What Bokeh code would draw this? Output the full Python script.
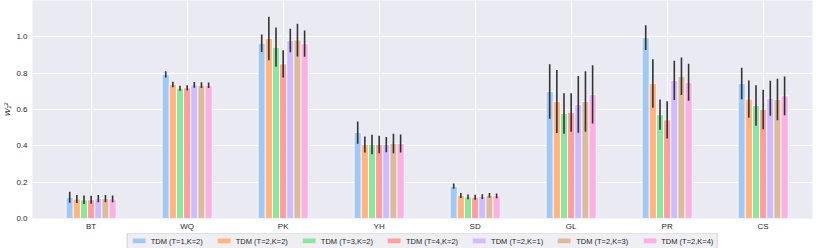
import numpy as np
from bokeh.plotting import figure
from bokeh.layouts import column
from bokeh.models import ColumnDataSource, FixedTicker, NumeralTickFormatter, Legend, LegendItem, Range1d
from bokeh.embed import file_html
from bokeh.resources import INLINE

categories = ["BT", "WQ", "PK", "YH", "SD", "GL", "PR", "CS"]
series = ["TDM (T=1,K=2)", "TDM (T=2,K=2)", "TDM (T=3,K=2)", "TDM (T=4,K=2)",
          "TDM (T=2,K=1)", "TDM (T=2,K=3)", "TDM (T=2,K=4)"]
colors = ["#a1c9f4", "#ffb482", "#8de5a1", "#ff9f9b", "#d0bbff", "#debb9b", "#fab0e4"]

# means per series (order of categories)
m_t1k2 = [0.117, 0.793, 0.965, 0.473, 0.178, 0.699, 0.996, 0.743]
m_t2k2 = [0.108, 0.738, 0.991, 0.407, 0.127, 0.644, 0.743, 0.657]
m_t3k2 = [0.103, 0.717, 0.943, 0.407, 0.119, 0.578, 0.572, 0.622]
m_t4k2 = [0.103, 0.719, 0.851, 0.407, 0.117, 0.583, 0.543, 0.600]
m_t2k1 = [0.110, 0.736, 0.980, 0.407, 0.121, 0.628, 0.760, 0.662]
m_t2k3 = [0.110, 0.734, 0.982, 0.413, 0.127, 0.644, 0.783, 0.655]
m_t2k4 = [0.108, 0.734, 0.963, 0.413, 0.125, 0.683, 0.750, 0.675]

# error half-widths
e_t1k2 = [0.030, 0.017, 0.048, 0.061, 0.014, 0.150, 0.068, 0.087]
e_t2k2 = [0.022, 0.015, 0.120, 0.044, 0.014, 0.173, 0.133, 0.103]
e_t3k2 = [0.023, 0.014, 0.108, 0.054, 0.013, 0.112, 0.083, 0.111]
e_t4k2 = [0.022, 0.014, 0.075, 0.048, 0.014, 0.106, 0.103, 0.109]
e_t2k1 = [0.020, 0.016, 0.065, 0.042, 0.013, 0.156, 0.108, 0.096]
e_t2k3 = [0.020, 0.016, 0.090, 0.054, 0.013, 0.167, 0.103, 0.114]
e_t2k4 = [0.018, 0.015, 0.072, 0.050, 0.013, 0.160, 0.102, 0.107]

means = [m_t1k2, m_t2k2, m_t3k2, m_t4k2, m_t2k1, m_t2k3, m_t2k4]
errs = [e_t1k2, e_t2k2, e_t3k2, e_t4k2, e_t2k1, e_t2k3, e_t2k4]

yticks = [0.0, 0.2, 0.4, 0.6, 0.8, 1.0]

FONT = "Liberation Sans"
TXT = "#262626"
BAR_W = 0.0745

p = figure(width=814, height=233, output_backend="svg", toolbar_location=None,
           x_range=Range1d(-0.611, 7.514), y_range=Range1d(0, 1.2),
           min_border_left=0, min_border_right=2, min_border_top=0, min_border_bottom=0)
p.background_fill_color = "#eaeaf2"
p.border_fill_color = "white"
p.outline_line_color = None

idx = np.arange(len(categories))
for j, (name, col) in enumerate(zip(series, colors)):
    xs = idx + (j - 3) * BAR_W
    m = np.array(means[j])
    e = np.array(errs[j])
    src = ColumnDataSource(dict(x=xs, top=m, lo=m - e, hi=m + e))
    p.vbar(x="x", top="top", width=BAR_W, source=src, fill_color=col,
           line_color="white", line_width=0.8)
    p.segment(x0="x", x1="x", y0="lo", y1="hi", source=src, line_color="#333333", line_width=1.6)

p.xaxis.ticker = FixedTicker(ticks=list(range(len(categories))))
p.xaxis.major_label_overrides = {i: c for i, c in enumerate(categories)}
p.yaxis.ticker = FixedTicker(ticks=yticks)
p.yaxis.formatter = NumeralTickFormatter(format="0.0")
p.ygrid.ticker = FixedTicker(ticks=yticks)

for ax in [p.xaxis[0], p.yaxis[0]]:
    ax.axis_line_color = None
    ax.major_tick_line_color = None
    ax.minor_tick_line_color = None
    ax.major_tick_out = 0
    ax.major_tick_in = 0
    ax.minor_tick_out = 0
    ax.minor_tick_in = 0
    ax.major_label_text_font = FONT
    ax.major_label_text_font_size = "8px"
    ax.major_label_text_color = TXT
p.xaxis.major_label_standoff = 3
p.yaxis.major_label_standoff = 5

p.yaxis.axis_label = "W₂²"
p.yaxis.axis_label_text_font = FONT
p.yaxis.axis_label_text_font_size = "8px"
p.yaxis.axis_label_text_font_style = "italic"
p.yaxis.axis_label_text_color = TXT
p.yaxis.axis_label_standoff = 1

p.xgrid.grid_line_color = "white"
p.ygrid.grid_line_color = "white"
p.xgrid.grid_line_width = 1
p.ygrid.grid_line_width = 1

# legend strip (separate figure so the legend is not clipped by the main frame)
lg = figure(width=814, height=15, output_backend="svg", toolbar_location=None,
            x_range=Range1d(0, 1), y_range=Range1d(0, 1),
            min_border_left=0, min_border_right=0, min_border_top=0, min_border_bottom=0)
lg.axis.visible = False
lg.grid.visible = False
lg.outline_line_color = None
lg.background_fill_color = "white"
items = []
for name, col in zip(series, colors):
    # zero-height swatch renderer, used only to draw the legend key
    r = lg.vbar(x=[0.5], top=[0], bottom=[0], width=0.0, fill_color=col, line_color=None)
    items.append(LegendItem(label=name, renderers=[r]))

legend = Legend(items=items, orientation="horizontal", location="center",
                label_text_font=FONT, label_text_font_size="7.5px", label_text_color=TXT,
                glyph_width=16, glyph_height=6, label_height=8, label_standoff=4,
                spacing=13, padding=3, margin=0,
                background_fill_color="#eeeef3", background_fill_alpha=1.0,
                border_line_color="#b8b8b8", border_line_width=1)
lg.add_layout(legend, "center")

layout = column(p, lg, spacing=0)
open("out.html", "w").write(file_html(layout, INLINE))
